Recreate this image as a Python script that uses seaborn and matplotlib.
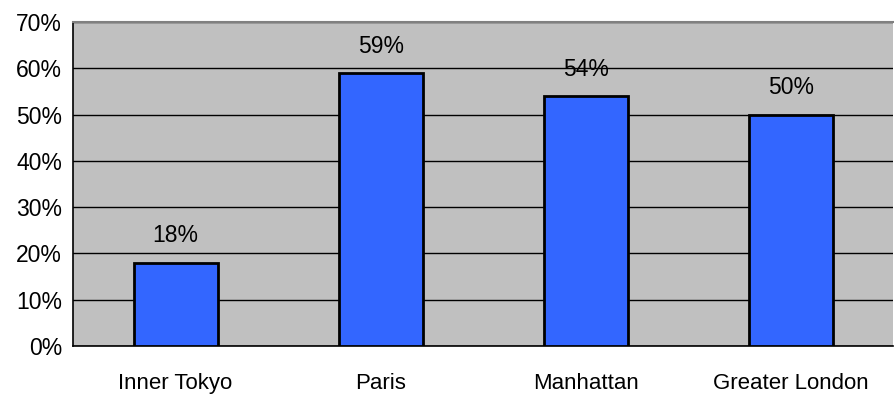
import matplotlib
matplotlib.use("Agg")
import matplotlib.pyplot as plt
import seaborn as sns
import pandas as pd
import numpy as np
from matplotlib.ticker import PercentFormatter, FixedLocator

cities = ["Inner Tokyo", "Paris", "Manhattan", "Greater London"]
shares = [18, 59, 54, 50]
labels = ["18%", "59%", "54%", "50%"]
y_ticks = [0, 10, 20, 30, 40, 50, 60, 70]

df = pd.DataFrame({"city": cities, "share": shares})

sns.set_style("white")
plt.rcParams["font.family"] = ["Liberation Sans", "DejaVu Sans"]
plt.rcParams["text.color"] = "black"
plt.rcParams["xtick.color"] = "black"
plt.rcParams["ytick.color"] = "black"

fig = plt.figure(figsize=(8.95, 3.94), dpi=100)
ax = fig.add_axes([0.0816, 0.122, 0.9164, 0.822])
ax.set_facecolor("#C0C0C0")

sns.barplot(data=df, x="city", y="share", color="#3366FF", saturation=1,
            width=0.41, edgecolor="black", linewidth=2, ax=ax, zorder=3)

for i, (v, t) in enumerate(zip(shares, labels)):
    ax.text(i, v + 3.3, t, ha="center", va="bottom", fontsize=16.5, color="black")

ax.set_ylim(0, 70)
ax.set_xlim(-0.5, len(cities) - 0.5)
ax.set_yticks(y_ticks)
ax.yaxis.set_major_formatter(PercentFormatter(decimals=0))
ax.grid(axis="y", color="black", linewidth=1, zorder=1)
ax.set_axisbelow(True)

ax.xaxis.set_minor_locator(FixedLocator(np.arange(-0.5, len(cities), 1.0)))
ax.tick_params(axis="x", which="major", length=0, pad=19.5, labelsize=16, labelcolor="black")
ax.tick_params(axis="x", which="minor", length=7, width=1, color="black", direction="out")
ax.tick_params(axis="y", length=6, width=1, color="black", direction="out",
               labelsize=16.5, pad=2, labelcolor="black")

ax.set_xlabel("")
ax.set_ylabel("")

for s in ["left", "bottom"]:
    ax.spines[s].set_color("black")
    ax.spines[s].set_linewidth(1.2)
ax.spines["top"].set_color("#808080")
ax.spines["top"].set_linewidth(1.5)
ax.spines["right"].set_visible(False)

fig.savefig("out.png", dpi=100)
